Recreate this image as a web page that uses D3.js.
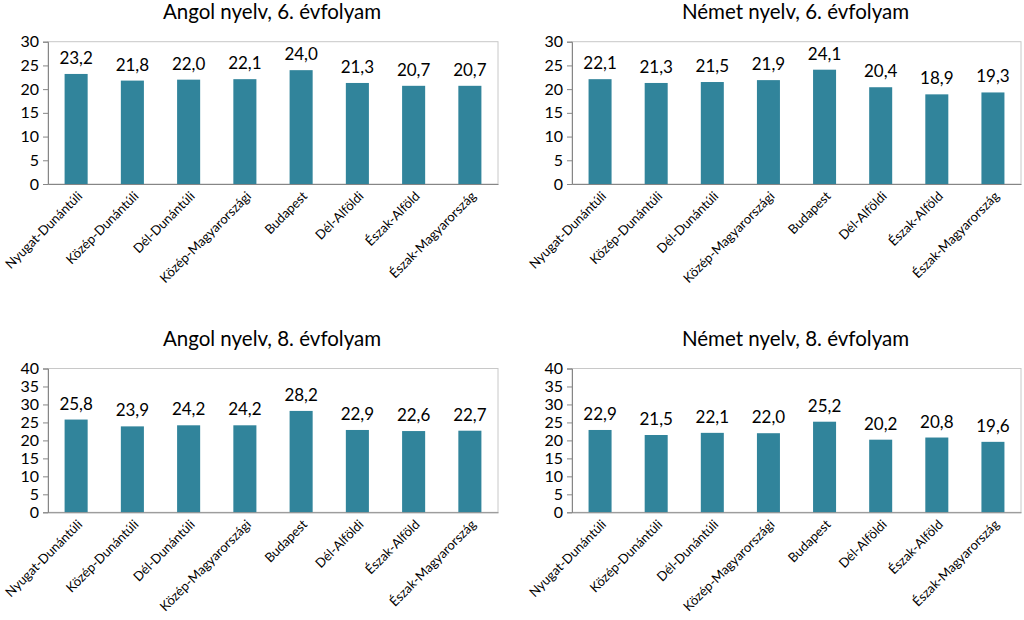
<!DOCTYPE html>
<html><head><meta charset="utf-8">
<script src="https://cdn.jsdelivr.net/npm/d3@7"></script>
<style>
html,body{margin:0;padding:0;background:#fff;}
svg{display:block;font-family:Lato,"Open Sans",sans-serif;}
</style></head>
<body><svg id="c" width="1024" height="620"></svg>
<script>
const regions = ["Nyugat-Dunántúli","Közép-Dunántúli","Dél-Dunántúli","Közép-Magyarországi","Budapest","Dél-Alföldi","Észak-Alföld","Észak-Magyarország"];
const angol6 = [23.2,21.8,22.0,22.1,24.0,21.3,20.7,20.7];
const nemet6 = [22.1,21.3,21.5,21.9,24.1,20.4,18.9,19.3];
const angol8 = [25.8,23.9,24.2,24.2,28.2,22.9,22.6,22.7];
const nemet8 = [22.9,21.5,22.1,22.0,25.2,20.2,20.8,19.6];
const titles = ["Angol nyelv, 6. évfolyam","Német nyelv, 6. évfolyam","Angol nyelv, 8. évfolyam","Német nyelv, 8. évfolyam"];
const ticks6 = [0,5,10,15,20,25,30];
const ticks8 = [0,5,10,15,20,25,30,35,40];

const panels = [
  {title:titles[0], values:angol6, ticks:ticks6, max:30, x0:48, x1:498, y0:41.7, y1:184, ty:19},
  {title:titles[1], values:nemet6, ticks:ticks6, max:30, x0:572, x1:1021, y0:41.7, y1:184, ty:19},
  {title:titles[2], values:angol8, ticks:ticks8, max:40, x0:48, x1:498, y0:368.5, y1:512.3, ty:346},
  {title:titles[3], values:nemet8, ticks:ticks8, max:40, x0:572, x1:1021, y0:368.5, y1:512.3, ty:346}
];
const barColor = "#31849b";
const svg = d3.select("#c");
const fmt = v => d3.format(".1f")(v).replace(".", ",");

panels.forEach(p => {
  const g = svg.append("g");
  const x = d3.scaleBand().domain(regions).range([p.x0, p.x1]).paddingInner(0.59).paddingOuter(0.295);
  const y = d3.scaleLinear().domain([0, p.max]).range([p.y1, p.y0]);

  // plot border
  g.append("rect").attr("x", p.x0).attr("y", p.y0).attr("width", p.x1 - p.x0).attr("height", p.y1 - p.y0)
    .attr("fill", "none").attr("stroke", "#c8c8c8").attr("stroke-width", 1);

  // title
  g.append("text").attr("x", (p.x0 + p.x1) / 2 - 1).attr("y", p.ty).attr("text-anchor", "middle")
    .attr("font-size", 20.5).attr("fill", "#000").text(p.title);

  // bars
  g.selectAll("rect.bar").data(p.values).enter().append("rect").attr("class", "bar")
    .attr("x", (d, i) => x(regions[i])).attr("width", x.bandwidth())
    .attr("y", d => y(d)).attr("height", d => y(0) - y(d)).attr("fill", barColor);

  // value labels
  g.selectAll("text.val").data(p.values).enter().append("text").attr("class", "val")
    .attr("x", (d, i) => x(regions[i]) + x.bandwidth() / 2).attr("y", d => y(d) - 10)
    .attr("text-anchor", "middle").attr("font-size", 17).attr("fill", "#000").text(fmt);

  // y axis
  const ya = g.append("g").attr("transform", `translate(${p.x0},0)`)
    .call(d3.axisLeft(y).tickValues(p.ticks).tickSize(5).tickPadding(4).tickFormat(d3.format("d")));
  ya.select(".domain").attr("stroke", "#868686");
  ya.selectAll(".tick line").attr("stroke", "#868686");
  ya.selectAll(".tick text").attr("font-size", 16).attr("fill", "#000").attr("font-family", "Lato");

  // x axis
  const xa = g.append("g").attr("transform", `translate(0,${p.y1})`)
    .call(d3.axisBottom(x).tickSize(0).tickPadding(0));
  xa.select(".domain").attr("stroke", "#868686");
  xa.selectAll(".tick text").attr("font-size", 13).attr("fill", "#000").attr("font-family", "Lato")
    .attr("text-anchor", "end").attr("dy", 0).attr("y", 0)
    .attr("transform", "translate(7,13) rotate(-45)");
});
</script></body></html>
